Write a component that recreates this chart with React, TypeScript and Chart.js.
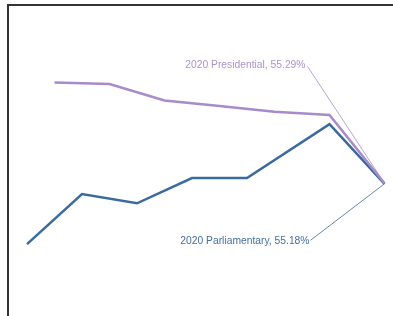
import React, { useEffect, useRef } from "react";
import { Chart, registerables } from "chart.js";

Chart.register(...registerables);

const presidentialYears = [1996, 2000, 2004, 2008, 2012, 2016, 2020];
const presidentialTurnout = [80.5, 80.1, 76.0, 74.6, 73.2, 72.4, 55.29];
const parliamentaryYears = [1994, 1998, 2002, 2006, 2010, 2016, 2020];
const parliamentaryTurnout = [40.1, 52.6, 50.3, 56.6, 56.6, 70.1, 55.18];
const seriesNames = ["Presidential", "Parliamentary"];
const seriesColors = ["#a78bcb", "#3a6b9c"];
const labelColors = ["#ac92d0", "#456fa3"];

const labelOffsets = [
  { tx: -79, ty: -118, lx: -77, ly: -117 },
  { tx: -75, ty: 57.5, lx: -74, ly: 56.5 },
];

const endLabels = {
  id: "endLabels",
  afterDatasetsDraw(chart: any) {
    const ctx = chart.ctx;
    chart.data.datasets.forEach((ds: any, i: number) => {
      const meta = chart.getDatasetMeta(i);
      const last = meta.data[meta.data.length - 1];
      const lastYear = (ds.data[ds.data.length - 1] as any).x;
      const lastVal = (ds.data[ds.data.length - 1] as any).y;
      const off = labelOffsets[i];
      ctx.save();
      ctx.strokeStyle = seriesColors[i];
      ctx.lineWidth = 0.8;
      ctx.beginPath();
      ctx.moveTo(last.x + off.lx, last.y + off.ly);
      ctx.lineTo(last.x, last.y);
      ctx.stroke();
      ctx.fillStyle = labelColors[i];
      ctx.font = "10.3px 'Liberation Sans', Arial, sans-serif";
      ctx.textAlign = "right";
      ctx.textBaseline = "middle";
      ctx.fillText(
        `${lastYear} ${seriesNames[i]}, ${lastVal.toFixed(2)}%`,
        last.x + off.tx,
        last.y + off.ty
      );
      ctx.restore();
    });
  },
};

export default function App() {
  const ref = useRef<HTMLCanvasElement | null>(null);
  useEffect(() => {
    if (!ref.current) return;
    const chart = new Chart(ref.current, {
      type: "line",
      data: {
        datasets: [
          {
            label: seriesNames[0],
            data: presidentialYears.map((x, i) => ({ x, y: presidentialTurnout[i] })),
            borderColor: seriesColors[0],
            borderWidth: 2.5,
            pointRadius: 0,
            tension: 0,
            fill: false,
          },
          {
            label: seriesNames[1],
            data: parliamentaryYears.map((x, i) => ({ x, y: parliamentaryTurnout[i] })),
            borderColor: seriesColors[1],
            borderWidth: 2.5,
            pointRadius: 0,
            tension: 0,
            fill: false,
          },
        ],
      },
      options: {
        animation: false,
        responsive: false,
        layout: { padding: { left: 13.25, right: 1.625, top: 4.5, bottom: 31.5 } },
        plugins: { legend: { display: false }, tooltip: { enabled: false } },
        scales: {
          x: { type: "linear", min: 1993, max: 2020.5, display: false },
          y: { type: "linear", min: 30, max: 100, display: false },
        },
      },
      plugins: [endLabels],
    });
    return () => chart.destroy();
  }, []);
  return (
    <div style={{ position: "fixed", left: 0, top: 0, width: 393, height: 316, overflow: "hidden", background: "#fff" }}>
      <div style={{ position: "absolute", left: 7, top: 4, width: 386, height: 2, background: "#333" }} />
      <div style={{ position: "absolute", left: 7, top: 4, width: 2, height: 312, background: "#333" }} />
      <canvas ref={ref} width={393} height={316} style={{ position: "absolute", left: 0, top: 0 }} />
    </div>
  );
}
